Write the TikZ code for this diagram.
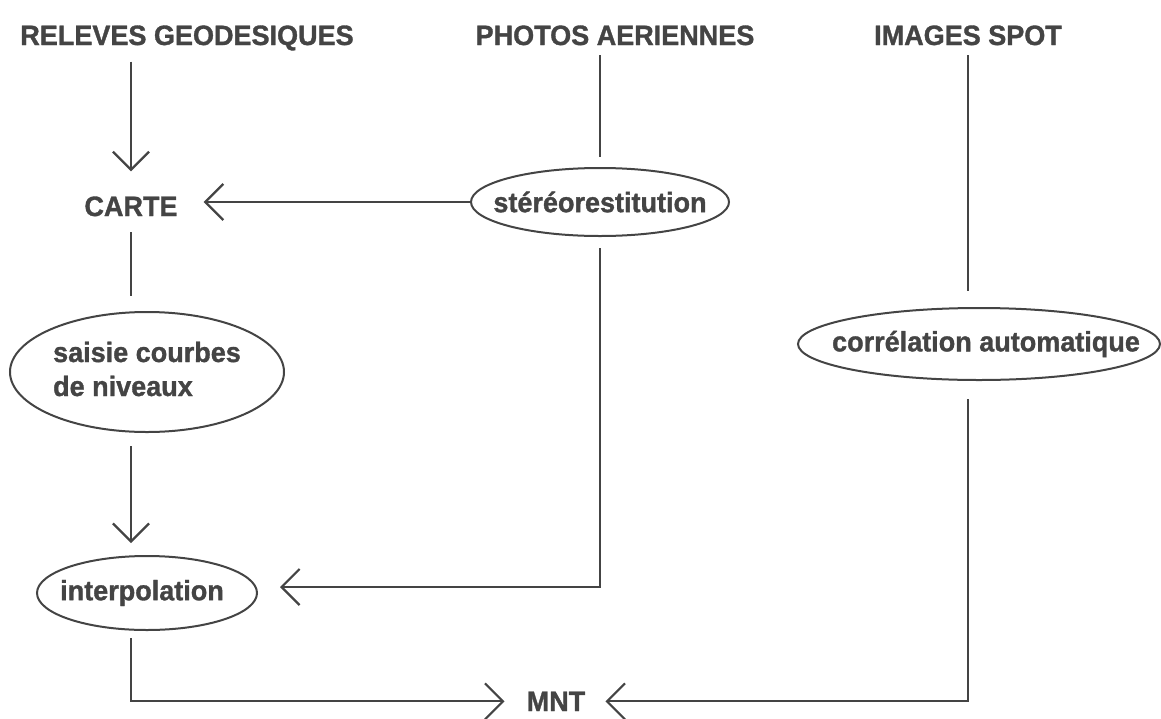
\documentclass[tikz,border=0pt]{standalone}
\usepackage{fontspec}
\setmainfont[FakeStretch=0.965,FakeBold=1.2]{Liberation Sans}
\usetikzlibrary{shapes.geometric,arrows.meta}
\definecolor{ink}{HTML}{444444}
% oval labels are set in a zero-width box so that the oval keeps its given size
\newcommand{\ovaltext}[1]{\makebox[0pt]{#1}}
\tikzset{
  lbl/.style={font=\bfseries\fontsize{28}{35}\selectfont, text=ink, inner sep=0pt},
  oval/.style={lbl, ellipse, draw=ink, line width=2pt, inner sep=0pt},
  link/.style={draw=ink, line width=2pt},
  arr/.style={link, -{Straight Barb[length=18pt,width=36pt,line width=2.2pt]}}
}
\begin{document}
\begin{tikzpicture}[x=1pt,y=1pt]
\useasboundingbox (0,0) rectangle (1161,-718);

% sources
\node[lbl, anchor=base] (releves) at (187,-45) {RELEVES GEODESIQUES};
\node[lbl, anchor=base] (photos)  at (615,-45) {PHOTOS AERIENNES};
\node[lbl, anchor=base] (images)  at (968,-45) {IMAGES SPOT};

% intermediate products and processes
\node[lbl, anchor=base] (carte) at (131,-216) {CARTE};
\node[oval, minimum width=258pt, minimum height=68pt] (stereo) at (600,-202)
  {\ovaltext{stéréorestitution}};
\node[oval, minimum width=274pt, minimum height=120pt] (saisie) at (147,-372)
  {\ovaltext{\begin{tabular}{@{}l@{}}saisie courbes\\[-1pt] de niveaux\end{tabular}}};
\node[oval, minimum width=362pt, minimum height=72pt] (correl) at (979,-344)
  {\ovaltext{\hspace{14pt}corrélation automatique}};
\node[oval, minimum width=220pt, minimum height=74pt] (interp) at (147,-593)
  {\ovaltext{interpolation\hspace{10pt}}};
\node[lbl, anchor=base] (mnt) at (556,-711) {MNT};

% entry point of the stereo flow, a little above the middle of the interpolation oval
\coordinate (interpin) at ([yshift=6pt]interp.east);

% flows
\draw[arr, shorten <=11pt, shorten >=25pt] (releves.south -| carte) -- (carte.north);
\draw[arr, shorten >=26pt] (stereo.west) -- (carte.east |- stereo.west);
\draw[link, shorten <=10pt, shorten >=10pt] (photos.south -| stereo.north) -- (stereo.north);
\draw[arr, shorten <=11pt, shorten >=22pt] (stereo.south) -- (stereo.south |- interpin) -- (interpin);
\draw[link, shorten <=16pt, shorten >=15pt] (carte.south) -- (carte |- saisie.north);
\draw[arr, shorten <=13pt, shorten >=12pt] (saisie.south -| carte) -- (interp.north -| carte);
\draw[arr, shorten <=7pt, shorten >=22pt] (interp.south -| carte) -- (carte |- mnt.west) -- (mnt.west);
\draw[link, shorten <=10pt, shorten >=16pt] (images.south) -- (images.south |- correl.north);
\draw[arr, shorten <=18pt, shorten >=20pt] (correl.south -| images) -- (images |- mnt.east) -- (mnt.east);
\end{tikzpicture}
\end{document}
